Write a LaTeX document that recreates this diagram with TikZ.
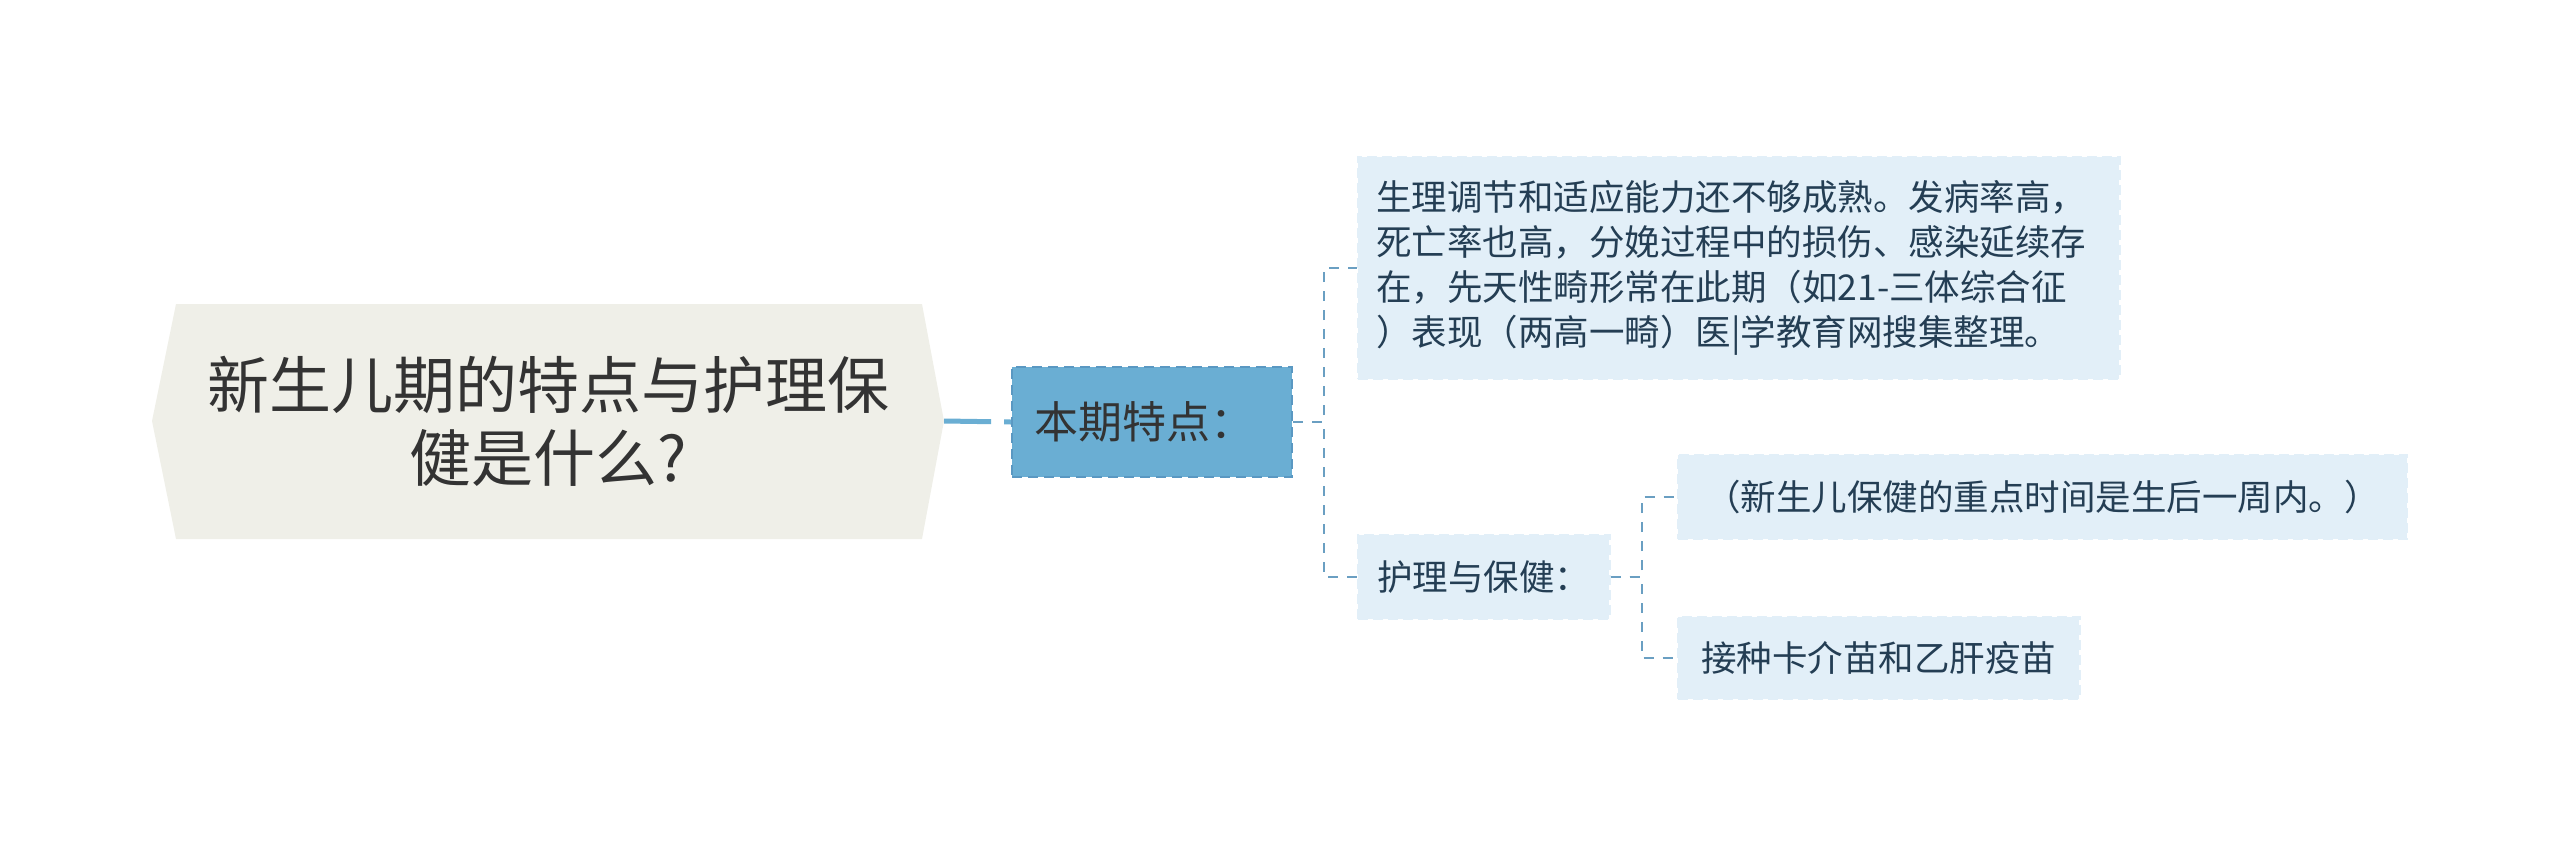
\documentclass[tikz,border=0pt]{standalone}
\usepackage{fontspec}
\setmainfont{Noto Sans CJK SC}
\definecolor{rootbg}{HTML}{EFEFE8}
\definecolor{mainbg}{HTML}{6AAED3}
\definecolor{mainln}{HTML}{5A98C2}
\definecolor{childbg}{HTML}{E2EFF8}
\definecolor{connc}{HTML}{6A9FC2}
\definecolor{txtdark}{HTML}{333333}
\definecolor{txtblue}{HTML}{243E54}
\begin{document}
\begin{tikzpicture}[x=1pt,y=-1pt,
  rootnode/.style={minimum width=792pt,minimum height=235pt,inner sep=0pt,align=center,text=txtdark,font={\fontsize{62}{73}\selectfont}},
  mainnode/.style={anchor=west,fill=mainbg,draw=mainln,dash pattern=on 10pt off 6pt,line width=2pt,text width=236pt,inner xsep=22pt,minimum height=110pt,align=left,text=txtdark,font={\fontsize{44}{50}\selectfont}},
  childnode/.style={anchor=west,fill=childbg,draw=childbg,dash pattern=on 10pt off 5pt,line width=2.5pt,align=left,text=txtblue,inner ysep=0pt,font={\fontsize{35.5}{45}\selectfont}},
  conn/.style={draw=connc,line width=2pt,dash pattern=on 10pt off 9pt},
  thickconn/.style={draw=mainbg,line width=5pt,dash pattern=on 47pt off 13pt}
]
\useasboundingbox (0,0) rectangle (2560,855);
\fill[rootbg] (152,421) -- (176,304) -- (922,304) -- (944,421) -- (922,539) -- (176,539) -- cycle;
\node[rootnode] (root) at (548,421) {新生儿期的特点与护理保\\健是什么?};
\node[mainnode] (main) at (1011,422) {本期特点：};
\node[childnode,text width=725pt,inner xsep=18pt,minimum height=222pt] (c1) at (1357,268) {生理调节和适应能力还不够成熟。发病率高，\\死亡率也高，分娩过程中的损伤、感染延续存\\在，先天性畸形常在此期（如21-三体综合征\\）表现（两高一畸）医|学教育网搜集整理。};
\node[childnode,inner xsep=19pt,minimum height=84pt] (c2) at (1357,577) {护理与保健：};
\node[childnode,inner xsep=27pt,minimum height=84pt] (g1) at (1677,497) {（新生儿保健的重点时间是生后一周内。）};
\node[childnode,inner xsep=23pt,minimum height=82pt] (g2) at (1677,658) {接种卡介苗和乙肝疫苗};
\draw[thickconn] (root.east) -- (main.west);
\draw[conn] (main.east) -- ++(31,0) |- (c1.west);
\draw[conn] (main.east) -- ++(31,0) |- (c2.west);
\draw[conn] (c2.east) -- ++(31,0) |- (g1.west);
\draw[conn] (c2.east) -- ++(31,0) |- (g2.west);
\end{tikzpicture}
\end{document}
